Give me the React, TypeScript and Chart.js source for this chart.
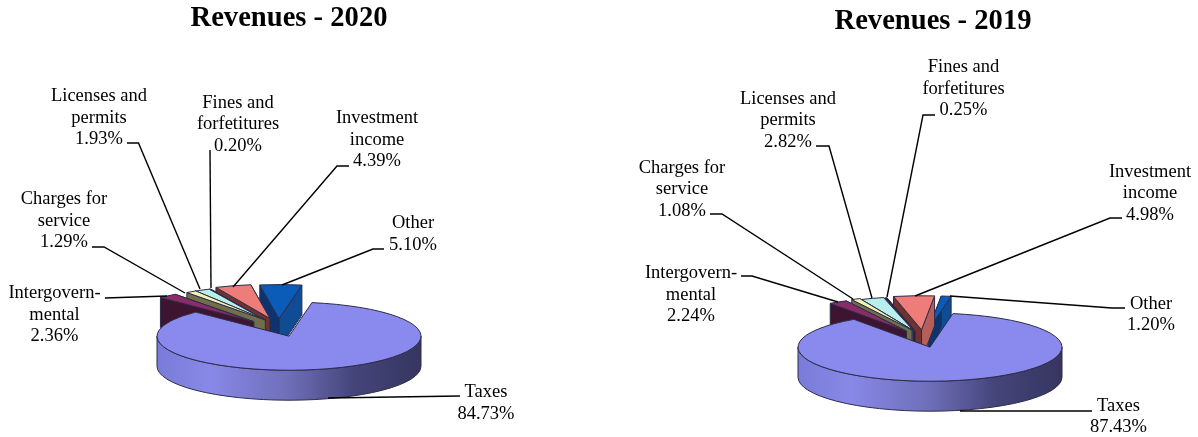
import React, { useEffect, useRef } from "react";
import { Chart, registerables } from "chart.js";

Chart.register(...registerables);

const categories = ["Taxes", "Intergovernmental", "Charges for service", "Licenses and permits", "Fines and forfetitures", "Investment income", "Other"];
const labelLines = [["Taxes"], ["Intergovern-", "mental"], ["Charges for", "service"], ["Licenses and", "permits"], ["Fines and", "forfetitures"], ["Investment", "income"], ["Other"]];
const values2020 = [84.73, 2.36, 1.29, 1.93, 0.2, 4.39, 5.1];
const values2019 = [87.43, 2.24, 1.08, 2.82, 0.25, 4.98, 1.2];

const topColors = ["#8a8aee", "#8a2c66", "#f2f2b4", "#b8eeec", "#3a1648", "#ee7c78", "#0a5cb8"];
const leftWall = ["#8a8aee", "#3e1530", "#6f6f4e", "#54706f", "#220c2c", "#6e3331", "#0c3470"];
const rightWall = ["#8a8aee", "#5a2048", "#a0a070", "#7da5a4", "#33123f", "#b85e5a", "#0f4c94"];

const explode2020 = [0, 74, 76, 71, 68, 71.5, 68];
const nudge2020 = [0, 13, 19, 9.5, 4, 1, -11];
const explode2019 = [0, 72.5, 74, 67, 64, 67.5, 67.5];
const nudge2019 = [0, 14, 13.6, 4.5, -1, -4.6, -11];

const layout2020 = [
  { x: 486, y: 391, pts: [[328, 398], [460, 396]] },
  { x: 54.5, y: 292, pts: [[105, 298], [167, 296]] },
  { x: 64, y: 198, pts: [[92, 247], [104, 247], [185, 293]] },
  { x: 99, y: 95, pts: [[127, 143], [138.5, 143], [200, 289]] },
  { x: 238, y: 101.5, pts: [[210, 150], [211, 288]] },
  { x: 377, y: 117, pts: [[349, 166], [337, 166], [233, 287]] },
  { x: 413, y: 222, pts: [[384, 249], [373, 249], [282, 285]] },
];
const layout2019 = [
  { x: 1118.5, y: 404.5, pts: [[960, 411], [1092, 411]] },
  { x: 691, y: 272, pts: [[741, 276], [752, 276], [838, 302]] },
  { x: 682, y: 166.5, pts: [[710, 214], [722, 214], [853, 299]] },
  { x: 788, y: 97.5, pts: [[816, 146], [829, 146], [872, 298]] },
  { x: 963.5, y: 66, pts: [[935, 115], [923, 115], [887, 297]] },
  { x: 1150, y: 170.5, pts: [[1122, 218], [1110, 218], [915, 296]] },
  { x: 1151, y: 302.5, pts: [[1125, 308], [1112, 308], [950, 296]] },
];

const TILT = 0.258;
const DEPTH = 30;
const EDGE = "#2c2c48";
const SERIF = "'Liberation Serif', serif";

const piePlugin = {
  id: "tiltedPie",
  beforeDatasetsDraw(chart: any, _args: any, opts: any) {
    const ctx = chart.ctx;
    const arcs = chart.getDatasetMeta(0).data;
    const shiftX = opts.shiftX || 0;

    const place = (i: number) => {
      const el = arcs[i];
      const mid = (el.startAngle + el.endAngle) / 2;
      const e = opts.explode[i];
      return {
        el,
        cx: el.x + shiftX + Math.cos(mid) * e + opts.nudge[i],
        cy: el.y + Math.sin(mid) * e * TILT,
      };
    };
    const drawTop = (i: number) => {
      const { el, cx, cy } = place(i);
      ctx.save();
      ctx.translate(cx, cy);
      ctx.scale(1, TILT);
      ctx.translate(-el.x, -el.y);
      el.draw(ctx);
      ctx.beginPath();
      ctx.moveTo(el.x, el.y);
      ctx.arc(el.x, el.y, el.outerRadius, el.startAngle, el.endAngle);
      ctx.closePath();
      ctx.restore();
      ctx.lineWidth = 1;
      ctx.strokeStyle = EDGE;
      ctx.stroke();
    };
    const wall = (cx: number, cy: number, r: number, a: number, color: string) => {
      const px = cx + Math.cos(a) * r;
      const py = cy + Math.sin(a) * r * TILT;
      ctx.beginPath();
      ctx.moveTo(cx, cy);
      ctx.lineTo(px, py);
      ctx.lineTo(px, py + DEPTH);
      ctx.lineTo(cx, cy + DEPTH);
      ctx.closePath();
      ctx.fillStyle = color;
      ctx.fill();
      ctx.lineWidth = 1;
      ctx.strokeStyle = EDGE;
      ctx.stroke();
    };

    for (let i = arcs.length - 1; i >= 1; i--) {
      const { el, cx, cy } = place(i);
      wall(cx, cy, el.outerRadius, el.endAngle, rightWall[i]);
      wall(cx, cy, el.outerRadius, el.startAngle, leftWall[i]);
      drawTop(i);
    }

    const { el, cx, cy } = place(0);
    const r = el.outerRadius;
    const g = ctx.createLinearGradient(cx - r, 0, cx + r, 0);
    g.addColorStop(0, "#7a7ad8");
    g.addColorStop(0.2, "#8888e8");
    g.addColorStop(0.5, "#6e6eb8");
    g.addColorStop(0.75, "#44447a");
    g.addColorStop(1, "#363660");
    ctx.beginPath();
    ctx.ellipse(cx, cy, r, r * TILT, 0, Math.PI, 0, true);
    ctx.lineTo(cx + r, cy + DEPTH);
    ctx.ellipse(cx, cy + DEPTH, r, r * TILT, 0, 0, Math.PI, false);
    ctx.closePath();
    ctx.fillStyle = g;
    ctx.fill();
    ctx.lineWidth = 1;
    ctx.strokeStyle = EDGE;
    ctx.stroke();
    drawTop(0);

    // leaders and labels
    const left = opts.canvasLeft;
    const values = chart.data.datasets[0].data;
    ctx.strokeStyle = "#000";
    ctx.lineWidth = 1.4;
    opts.layout.forEach((l: any) => {
      ctx.beginPath();
      l.pts.forEach((p: number[], k: number) => {
        if (k === 0) ctx.moveTo(p[0] - left, p[1]);
        else ctx.lineTo(p[0] - left, p[1]);
      });
      ctx.stroke();
    });
    ctx.fillStyle = "#000";
    ctx.font = `18.5px ${SERIF}`;
    ctx.textAlign = "center";
    ctx.textBaseline = "middle";
    opts.layout.forEach((l: any, i: number) => {
      const lines = [...labelLines[i], `${values[i].toFixed(2)}%`];
      lines.forEach((t, k) => ctx.fillText(t, l.x - left, l.y + 1.5 + k * 21.5));
    });
    return false;
  },
};

function makeChart(canvas: HTMLCanvasElement, cfg: any) {
  return new Chart(canvas, {
    type: "pie",
    data: {
      labels: categories,
      datasets: [{ data: cfg.values, backgroundColor: topColors, borderWidth: 0 }],
    },
    options: {
      responsive: false,
      animation: false,
      events: [],
      radius: 132,
      rotation: 10,
      layout: { padding: { left: cfg.padLeft } },
      plugins: {
        legend: { display: false },
        tooltip: { enabled: false },
        title: {
          display: true,
          text: cfg.title,
          color: "#000",
          font: { family: SERIF, size: 28.6, weight: "bold", lineHeight: 1.2 },
          padding: { top: cfg.titleTop, bottom: cfg.titleBottom },
        },
        tiltedPie: {
          explode: cfg.explode,
          nudge: cfg.nudge,
          layout: cfg.layout,
          canvasLeft: cfg.left,
          shiftX: cfg.shiftX,
        },
      },
    } as any,
    plugins: [piePlugin as any],
  });
}

export default function App() {
  const a = useRef<HTMLCanvasElement>(null);
  const b = useRef<HTMLCanvasElement>(null);
  useEffect(() => {
    const c1 = makeChart(a.current!, {
      title: "Revenues - 2020", values: values2020, explode: explode2020, nudge: nudge2020,
      layout: layout2020, left: 0, padLeft: 0, shiftX: 0, titleTop: 1, titleBottom: 200,
    });
    const c2 = makeChart(b.current!, {
      title: "Revenues - 2019", values: values2019, explode: explode2019, nudge: nudge2019,
      layout: layout2019, left: 600, padLeft: 68, shiftX: -3, titleTop: 4, titleBottom: 219,
    });
    return () => { c1.destroy(); c2.destroy(); };
  }, []);
  return (
    <div style={{ position: "absolute", left: 0, top: 0, width: 1198, height: 437, overflow: "hidden", background: "#fff" }}>
      <canvas ref={a} width={578} height={437} style={{ position: "absolute", left: 0, top: 0 }} />
      <canvas ref={b} width={598} height={437} style={{ position: "absolute", left: 600, top: 0 }} />
    </div>
  );
}
